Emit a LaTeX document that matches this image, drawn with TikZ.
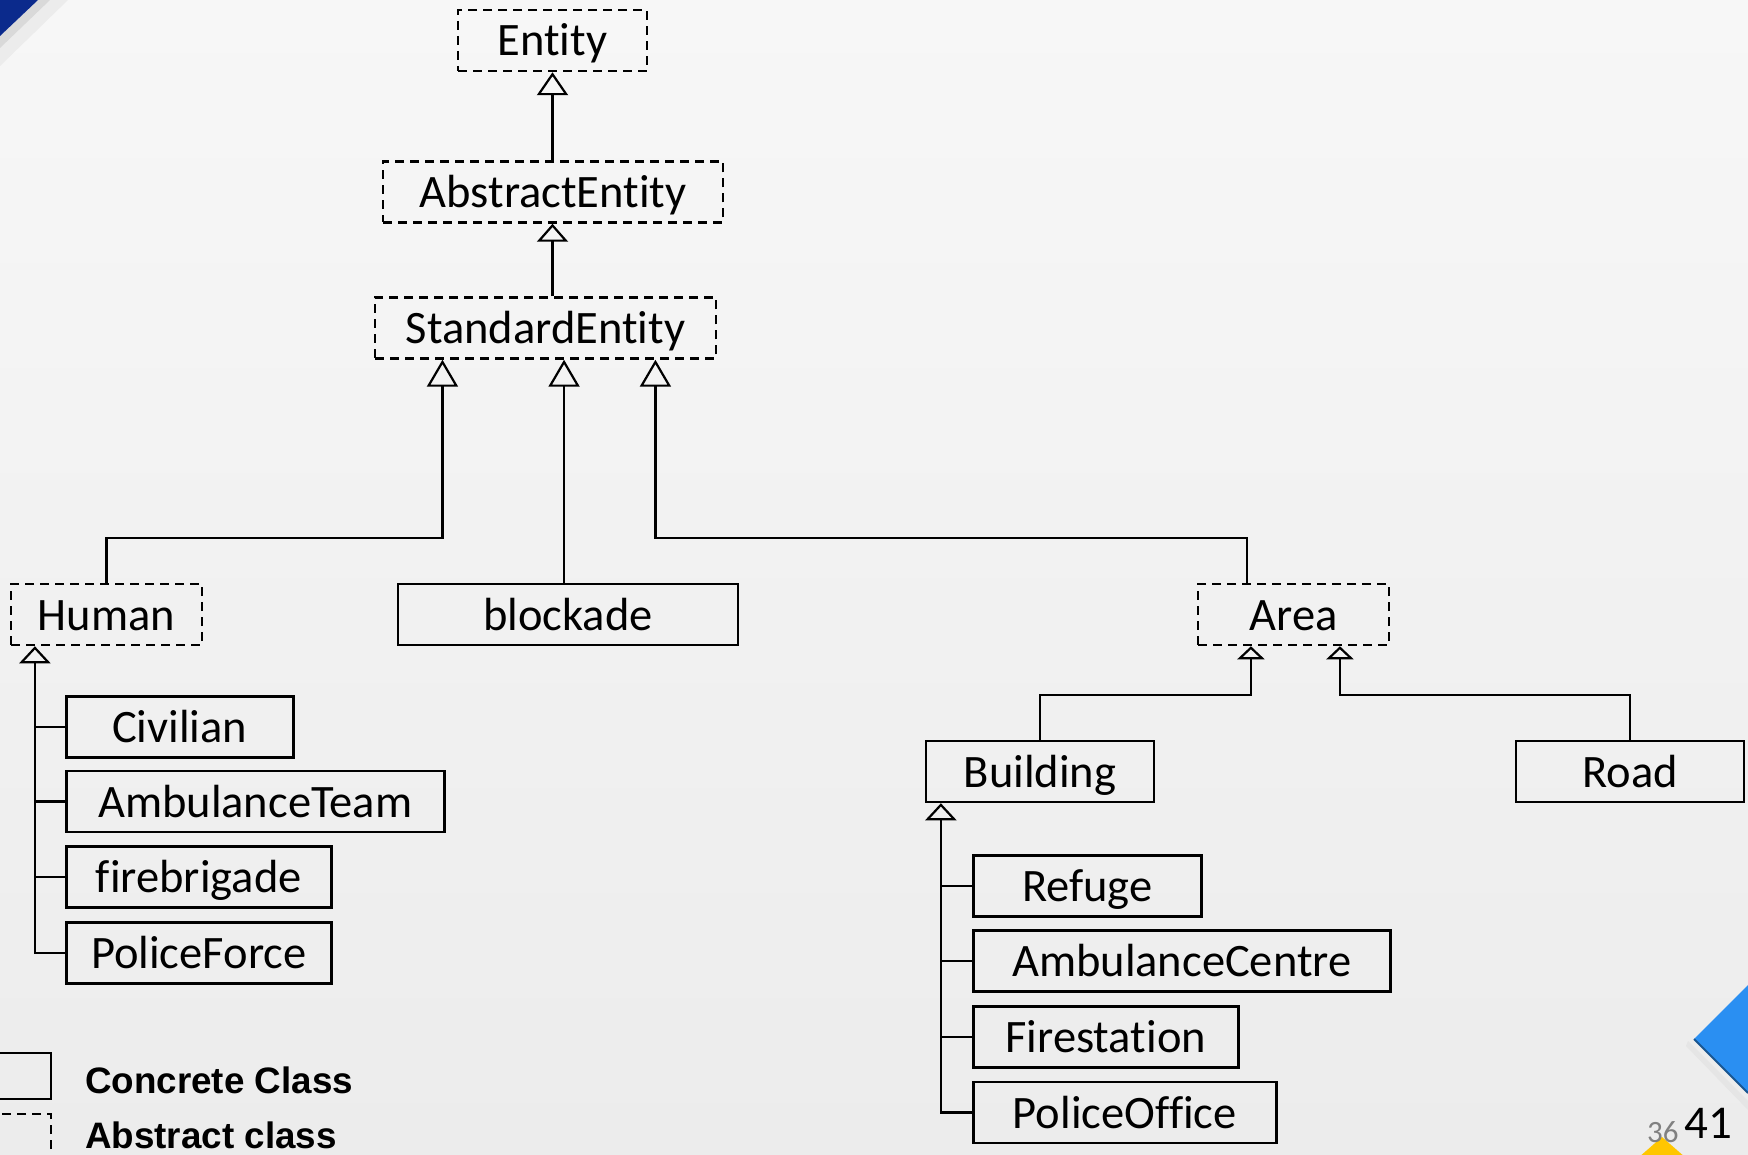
\documentclass[tikz,border=0pt]{standalone}
\usepackage{fontspec}
\setmainfont{Carlito}[Ligatures={NoCommon,NoContextual}, RawFeature={-liga;-clig;-calt;-dlig}]
\newfontfamily\legendfont{Liberation Sans}
\usetikzlibrary{arrows.meta,calc}
\definecolor{slidetop}{HTML}{F7F7F7}
\definecolor{slidebot}{HTML}{ECECEC}
\definecolor{cornernavy}{HTML}{0B2A8C}
\definecolor{cornerblue}{HTML}{2A8FF2}
\definecolor{corneryellow}{HTML}{FFC600}
\tikzset{
  cls/.style={draw, line width=2.5pt, minimum height=61, inner sep=0pt,
    text height=31pt, text depth=0pt, font=\fontsize{46.5}{50}\selectfont},
  concretecls/.style={cls},
  abstractcls/.style={cls, dash pattern=on 9pt off 6pt},
  link/.style={line width=2.2pt},
  isa/.style={link, -{Triangle[open, length=#1, width=31pt, line width=2.2pt]}},
  isa/.default=23pt,
  isasmall/.style={link, -{Triangle[open, length=13pt, width=27pt, line width=2.2pt]}}
}
\begin{document}
\begin{tikzpicture}[x=1pt,y=-1pt]
  \useasboundingbox (0,0) rectangle (1748,1155);
  \clip (0,0) rectangle (1748,1155);
  \shade[top color=slidetop, bottom color=slidebot] (0,0) rectangle (1748,1155);
  \fill[gray!15] (38,0) -- (68,0) -- (0,66) -- (0,36) -- cycle;
  \fill[gray!30] (38,0) -- (50,0) -- (0,48) -- (0,36) -- cycle;
  \fill[cornernavy] (0,0) -- (38,0) -- (0,36) -- cycle;
  \fill[gray!20] (1688,1041) -- (1748,1101) -- (1748,1110) -- (1686,1046) -- cycle;
  \fill[cornerblue] (1694,1039) -- (1748,985) -- (1748,1093) -- cycle;
  \draw[line width=2pt, cornerblue!60!black] (1694,1039) -- (1748,1093);
  \fill[corneryellow] (1662,1137) -- (1686,1158) -- (1638,1158) -- cycle;
  \node[anchor=base west, inner sep=0pt, text=gray, font=\fontsize{31}{31}\selectfont] (oldpage) at (1647,1142) {36};
  \node[anchor=base west, inner sep=0pt, font=\fontsize{47}{47}\selectfont] (page) at (1684,1138) {41};

  \node[abstractcls, minimum width=189] (entity) at (552.5,40.5) {Entity};
  \node[abstractcls, minimum width=340] (abs) at (553,192) {AbstractEntity};
  \node[abstractcls, minimum width=341] (std) at (545.5,328) {StandardEntity};
  \node[abstractcls, minimum width=191] (human) at (106.5,614.5) {Human};
  \node[concretecls, minimum width=340] (blockade) at (568,614.5) {blockade};
  \node[abstractcls, minimum width=191] (area) at (1293.5,614.5) {Area};
  \node[concretecls, minimum width=228] (building) at (1040,771.5) {Building};
  \node[concretecls, minimum width=228] (road) at (1630,771.5) {Road};

  \draw[isa] (abs.north -| entity.south) -- (entity.south);
  \draw[isa=18pt] (std.north -| entity.south) -- (abs.south -| entity.south);

  \coordinate (std-h) at ($(std.south west)!0.2!(std.south east)$);
  \coordinate (std-b) at ($(std.south west)!0.554!(std.south east)$);
  \coordinate (std-a) at ($(std.south west)!0.82!(std.south east)$);
  \coordinate (area-top) at ($(area.north west)!0.26!(area.north east)$);
  \draw[isa=27pt] (human.north) -- ++(0,-45) -| (std-h);
  \draw[isa=27pt] (blockade.north -| std-b) -- (std-b);
  \draw[isa=27pt] (area-top) -- ++(0,-45) -| (std-a);

  \coordinate (area-l) at ($(area.south west)!0.28!(area.south east)$);
  \coordinate (area-r) at ($(area.south west)!0.74!(area.south east)$);
  \draw[isasmall] (building.north) -- ++(0,-45) -| (area-l);
  \draw[isasmall] (road.north) -- ++(0,-45) -| (area-r);

  \coordinate (human-t) at ($(human.south west)!0.13!(human.south east)$);
  \foreach \id/\label/\w/\yy in {civ/Civilian/227/727, amt/AmbulanceTeam/378/801.5,
      fb/firebrigade/265/877, pf/PoliceForce/265/953} {
    \node[concretecls, minimum width=\w, anchor=west] (\id) at (65,\yy) {\label};
    \draw[link] (\id.west) -- (\id.west -| human-t);
  }
  \draw[isa=17pt] (pf.west) -| (human-t);

  \coordinate (bld-t) at ($(building.south west)!0.07!(building.south east)$);
  \foreach \id/\label/\w/\yy in {ref/Refuge/228/886, ac/AmbulanceCentre/417/961,
      fs/Firestation/265/1037, po/PoliceOffice/303/1112.5} {
    \node[concretecls, minimum width=\w, anchor=west] (\id) at (972,\yy) {\label};
    \draw[link] (\id.west) -- (\id.west -| bld-t);
  }
  \draw[isa=17pt] (po.west) -| (bld-t);

  \node[concretecls, minimum width=80, minimum height=46] (keyconcrete) at (11,1076) {};
  \node[abstractcls, minimum width=80, minimum height=60] (keyabstract) at (11,1144) {};
  \node[anchor=base west, inner sep=0pt, font=\legendfont\bfseries\fontsize{36.8}{40}\selectfont] (keyconcretetext) at (85,1093) {Concrete Class};
  \node[anchor=base west, inner sep=0pt, font=\legendfont\bfseries\fontsize{36.8}{40}\selectfont] (keyabstracttext) at (85,1148) {Abstract class};
\end{tikzpicture}
\end{document}
